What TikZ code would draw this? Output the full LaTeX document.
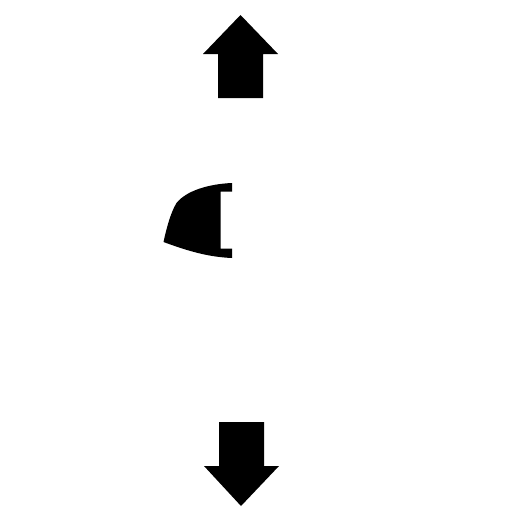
\documentclass[tikz,border=0pt]{standalone}
\tikzset{shapefill/.style={fill=black,draw=none}}
\begin{document}
\begin{tikzpicture}[x=.01cm,y=-.01cm]
	\useasboundingbox (0,0) rectangle (512,512);
	% arrow up
	\fill[shapefill] (240.5,15)--(278,54)--(263,54)--(263,98)--(218,98)--(218,54)--(203,54)--cycle;
	% arrow down
	\fill[shapefill] (241,506)--(279,466)--(264,466)--(264,422)--(219,422)--(219,466)--(204,466)--cycle;
	% middle shape
	\fill[shapefill] (232,183)--(232,191.5)--(220.7,191.5)--(220.7,248.5)--(232,248.5)--(232,258)
		.. controls (208,257) and (188,251) .. (163.5,242)
		.. controls (167,226) and (171,212) .. (176.5,203)
		.. controls (186,191) and (208,184) .. (232,183)--cycle;
\end{tikzpicture}
\end{document}
